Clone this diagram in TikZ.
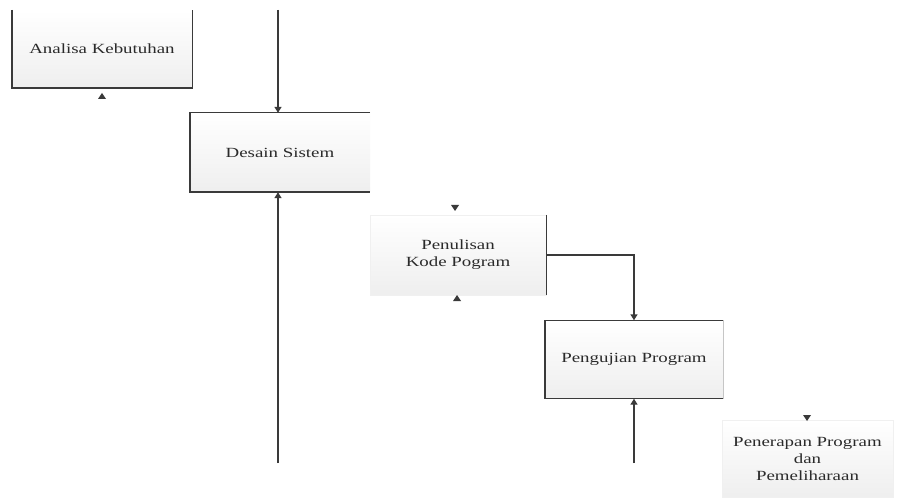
\documentclass[tikz,border=0pt]{standalone}
\usepackage{fontspec}
\newfontfamily\boxfont{Liberation Serif}[FakeStretch=1.35]
\usetikzlibrary{arrows.meta}
\definecolor{linecol}{HTML}{3A3A3A}
\definecolor{textcol}{HTML}{2A2A2A}
\tikzset{
  panel/.style={inner sep=0pt, align=center, text=textcol,
    top color=white, bottom color=gray!13,
    font=\boxfont\fontsize{14}{17}\selectfont},
  border/.style={draw=linecol, line width=1.4pt},
  flow/.style={draw=linecol, line width=1.4pt, -{Triangle[width=7pt,length=6pt]}},
  tipmark/.style={fill=linecol},
}
\begin{document}
\begin{tikzpicture}[x=1pt,y=-1pt]
\useasboundingbox (0,0) rectangle (898,500);
\fill[white] (0,0) rectangle (898,500);

% stage panels
\node[panel, minimum width=180pt, minimum height=78pt] (ak) at (102,49) {Analisa Kebutuhan};
\node[panel, minimum width=180pt, minimum height=79pt] (ds) at (280,152.5) {Desain Sistem};
\node[panel, draw=gray!12, minimum width=176pt, minimum height=80pt] (pk) at (458,255) {Penulisan\\Kode Pogram};
\node[panel, minimum width=178pt, minimum height=78pt] (pp) at (634,359.5) {Pengujian Program};
\node[panel, draw=gray!12, minimum width=171pt, minimum height=77pt] (pm) at (807.5,458.5) {Penerapan Program\\dan\\Pemeliharaan};

% panel outlines
\draw[border] (ak.north west) -- (ak.south west) -- (ak.south east) -- (ak.north east);
\draw[border] (ds.north east) -- (ds.north west) -- (ds.south west) -- (ds.south east);
\draw[border] (pk.north east) -- (pk.south east);
\draw[border] (pp.north east) -- (pp.north west) -- (pp.south west) -- (pp.south east);
\draw[draw=gray!45, line width=0.8pt] (pp.north east) -- (pp.south east);

% connectors
\coordinate (dsin) at (278,10);
\coordinate (dsup) at (278,463);
\coordinate (ppup) at (634,463);
\draw[flow] (dsin) -- (dsin |- ds.north);
\draw[flow] (dsup) -- (dsup |- ds.south);
\draw[flow] (pk.east) -| (pp.north);
\draw[flow] (ppup) -- (pp.south);

% loose arrow tips
\fill[tipmark] (98,99) -- (106,99) -- (102,93) -- cycle;
\fill[tipmark] (451,205) -- (459,205) -- (455,211) -- cycle;
\fill[tipmark] (453,301) -- (461,301) -- (457,295) -- cycle;
\fill[tipmark] (803,415) -- (811,415) -- (807,421) -- cycle;
\end{tikzpicture}
\end{document}
